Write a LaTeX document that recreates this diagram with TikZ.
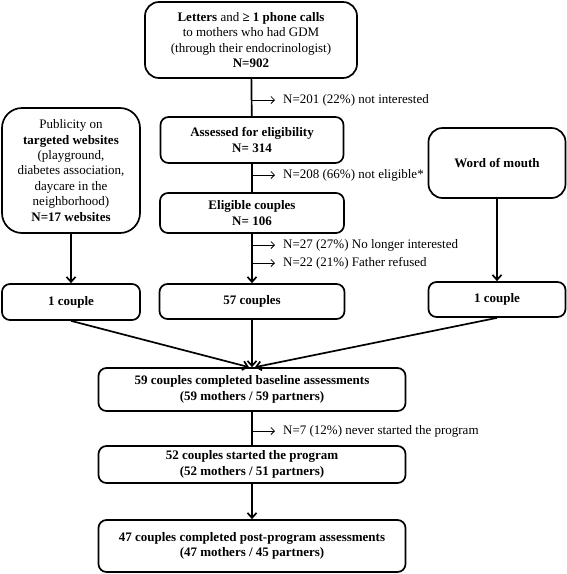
\documentclass[tikz,border=0pt]{standalone}
\usepackage{fontspec}
\setmainfont{Liberation Serif}
\usetikzlibrary{arrows.meta}

\begin{document}
\begin{tikzpicture}[x=1pt,y=-1pt,
    txt/.style={font=\fontsize{13}{15.4}\selectfont},
    box/.style={txt,draw,line width=1.7pt,rounded corners=8pt,align=center,inner sep=0pt},
    flow/.style={line width=1.7pt,-{Straight Barb[length=5pt,width=9pt]}},
    side/.style={line width=0.8pt,-{Straight Barb[length=3.5pt,width=7pt]}}]
  \useasboundingbox (0,0) rectangle (567,574);
  % boxes
  \node[box,rounded corners=14pt,minimum width=212pt,minimum height=76pt] (letters) at (251,40)
    {\textbf{Letters} and \textbf{≥ 1 phone calls}\\to mothers who had GDM\\(through their endocrinologist)\\\textbf{N=902}};
  \node[box,minimum width=183pt,minimum height=46pt] (assessed) at (252,140)
    {\textbf{Assessed for eligibility}\\\textbf{N= 314}};
  \node[box,minimum width=184pt,minimum height=40pt] (eligible) at (252,213)
    {\textbf{Eligible couples}\\\textbf{N= 106}};
  \node[box,rounded corners=20pt,minimum width=138pt,minimum height=125pt] (web) at (71,170.5)
    {Publicity on\\\textbf{targeted websites}\\(playground,\\diabetes association,\\daycare in the\\neighborhood)\\\textbf{N=17 websites}};
  \node[box,rounded corners=14pt,minimum width=137pt,minimum height=70pt] (mouth) at (497,163)
    {\textbf{Word of mouth}};
  \node[box,minimum width=138pt,minimum height=36pt] (webcpl) at (71,302) {\textbf{1 couple}};
  \node[box,minimum width=185pt,minimum height=35pt] (midcpl) at (252,301.5) {\textbf{57 couples}};
  \node[box,minimum width=137pt,minimum height=35pt] (mouthcpl) at (497,299.5) {\textbf{1 couple}};
  \node[box,minimum width=307pt,minimum height=43pt] (baseline) at (252,389.5)
    {\textbf{59 couples completed baseline assessments}\\\textbf{(59 mothers / 59 partners)}};
  \node[box,minimum width=307pt,minimum height=37pt] (started) at (252,464.5)
    {\textbf{52 couples started the program}\\\textbf{(52 mothers / 51 partners)}};
  \node[box,minimum width=307pt,minimum height=52pt] (post) at (252,546)
    {\textbf{47 couples completed post-program assessments}\\\textbf{(47 mothers / 45 partners)}};
  % main flow
  \draw[line width=1.7pt] (letters) -- (assessed);
  \draw[line width=1.7pt] (assessed) -- (eligible);
  \draw[flow] (eligible) -- (midcpl);
  \draw[flow] (web) -- (webcpl);
  \draw[flow] (mouth) -- (mouthcpl);
  \draw[flow] (webcpl.south) -- ([xshift=-3pt]baseline.north);
  \draw[flow] (midcpl.south) -- (baseline.north);
  \draw[flow] (mouthcpl.south) -- ([xshift=3pt]baseline.north);
  \draw[line width=1.7pt] (baseline) -- (started);
  \draw[flow] (started) -- (post);
  % exclusions
  \coordinate (x1) at (252,100);
  \coordinate (x2) at (252,175);
  \coordinate (x3) at (252,245);
  \coordinate (x4) at (252,263);
  \coordinate (x5) at (252,431);
  \foreach \c/\t in {x1/{N=201 (22\%) not interested},
                     x2/{N=208 (66\%) not eligible*},
                     x3/{N=27 (27\%) No longer interested},
                     x4/{N=22 (21\%) Father refused},
                     x5/{N=7 (12\%) never started the program}} {
    \draw[side] (\c) -- ([xshift=23pt]\c);
    \node[txt,anchor=west,inner sep=0pt] (\c-lab) at ([xshift=31pt]\c) {\t};
  }
\end{tikzpicture}
\end{document}
